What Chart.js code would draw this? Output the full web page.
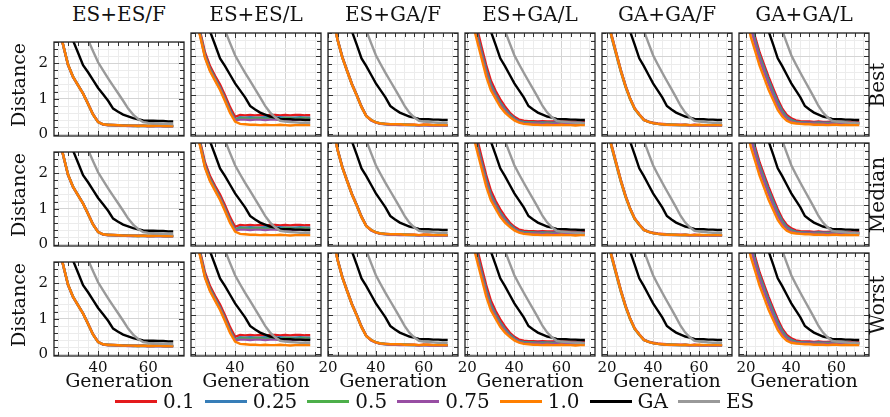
<!DOCTYPE html>
<html>
<head>
<meta charset="utf-8">
<script src="https://cdn.jsdelivr.net/npm/chart.js@4.4.1/dist/chart.umd.min.js"></script>
<style>
  body { margin: 0; background: #fff; }
  #page { position: relative; width: 890px; height: 417px; overflow: hidden; font-family: "DejaVu Serif", serif; color: #111; }
  #page canvas { position: absolute; }
  .txt { position: absolute; white-space: nowrap; line-height: 1; transform: translate(-50%, -50%); }
  .legend { position: absolute; left: 115px; top: 390px; display: flex; align-items: center; font-size: 20px; line-height: 22px; white-space: nowrap; }
  .legend i { display: inline-block; width: 42px; height: 3px; margin-right: 6px; }
  .legend span { margin-right: 10px; }
</style>
</head>
<body>
<div id="page"></div>
<script>
// --- data ---
const columnTitles = ['ES+ES/F', 'ES+ES/L', 'ES+GA/F', 'ES+GA/L', 'GA+GA/F', 'GA+GA/L'];
const rowTitles = ['Best', 'Median', 'Worst'];
const rateLabels = ['0.1', '0.25', '0.5', '0.75', '1.0'];
const rateColors = ['#e41a1c', '#377eb8', '#4daf4a', '#984ea3', '#ff7f00'];

const generations = [20, 22, 24, 26, 28, 30, 32, 34, 36, 38, 40, 42, 44, 46, 48, 50, 52, 54, 56, 58, 60, 62, 64, 66, 68, 70];

const gaDistance = [4.0, 3.7, 3.4, 3.1, 2.85, 2.64, 2.3, 1.95, 1.75, 1.53, 1.31, 1.13, 0.95, 0.73, 0.64, 0.56, 0.51, 0.46, 0.43, 0.40, 0.39, 0.39, 0.38, 0.38, 0.37, 0.37];
const esDistance = [4.7, 4.4, 4.1, 3.8, 3.5, 3.25, 3.0, 2.85, 2.66, 2.34, 2.03, 1.80, 1.58, 1.37, 1.16, 0.95, 0.73, 0.56, 0.44, 0.35, 0.33, 0.32, 0.31, 0.30, 0.30, 0.29];

// ES+ES/F
const esesF_r01  = [3.6, 3.3, 3.0, 2.54, 1.97, 1.63, 1.39, 1.16, 0.87, 0.57, 0.36, 0.29, 0.28, 0.27, 0.26, 0.26, 0.25, 0.25, 0.25, 0.25, 0.24, 0.25, 0.25, 0.24, 0.24, 0.24];
const esesF_r025 = [3.6, 3.3, 3.0, 2.53, 1.96, 1.62, 1.39, 1.16, 0.86, 0.56, 0.35, 0.29, 0.27, 0.27, 0.26, 0.25, 0.25, 0.25, 0.24, 0.25, 0.24, 0.24, 0.25, 0.24, 0.24, 0.24];
const esesF_r05  = [3.6, 3.3, 3.0, 2.53, 1.96, 1.62, 1.38, 1.15, 0.86, 0.56, 0.35, 0.28, 0.27, 0.26, 0.26, 0.25, 0.25, 0.24, 0.24, 0.24, 0.24, 0.24, 0.24, 0.24, 0.23, 0.24];
const esesF_r075 = [3.6, 3.3, 3.0, 2.52, 1.95, 1.61, 1.38, 1.15, 0.86, 0.56, 0.35, 0.28, 0.26, 0.26, 0.25, 0.25, 0.24, 0.24, 0.24, 0.24, 0.23, 0.24, 0.23, 0.23, 0.23, 0.23];
const esesF_r10  = [3.6, 3.3, 3.0, 2.53, 1.96, 1.62, 1.38, 1.15, 0.86, 0.56, 0.35, 0.29, 0.27, 0.27, 0.26, 0.25, 0.25, 0.25, 0.24, 0.25, 0.24, 0.24, 0.25, 0.24, 0.24, 0.24];

// ES+ES/L
const esesL_r01  = [3.7, 3.4, 3.1, 2.65, 2.1, 1.75, 1.5, 1.28, 1.0, 0.7, 0.45, 0.50, 0.49, 0.50, 0.49, 0.50, 0.49, 0.50, 0.50, 0.49, 0.50, 0.49, 0.50, 0.50, 0.49, 0.49];
const esesL_r025 = [3.65, 3.35, 3.05, 2.6, 2.03, 1.68, 1.44, 1.2, 0.92, 0.62, 0.38, 0.44, 0.43, 0.44, 0.43, 0.43, 0.44, 0.43, 0.43, 0.44, 0.43, 0.43, 0.43, 0.44, 0.43, 0.43];
const esesL_r05  = [3.65, 3.35, 3.05, 2.58, 2.0, 1.66, 1.42, 1.18, 0.9, 0.6, 0.37, 0.41, 0.41, 0.40, 0.41, 0.41, 0.40, 0.41, 0.41, 0.40, 0.41, 0.41, 0.40, 0.41, 0.41, 0.40];
const esesL_r075 = [3.6, 3.3, 3.0, 2.56, 1.98, 1.64, 1.4, 1.17, 0.88, 0.58, 0.36, 0.38, 0.38, 0.37, 0.38, 0.38, 0.37, 0.38, 0.38, 0.37, 0.38, 0.38, 0.37, 0.38, 0.38, 0.37];
const esesL_r10  = [3.6, 3.3, 3.0, 2.53, 1.96, 1.62, 1.38, 1.14, 0.85, 0.55, 0.33, 0.27, 0.26, 0.25, 0.25, 0.24, 0.25, 0.24, 0.24, 0.25, 0.24, 0.23, 0.24, 0.24, 0.24, 0.24];

// ES+GA/F
const esgaF_r01  = [3.4, 3.0, 2.44, 1.99, 1.64, 1.30, 1.02, 0.72, 0.48, 0.37, 0.31, 0.28, 0.27, 0.26, 0.26, 0.25, 0.25, 0.25, 0.25, 0.24, 0.25, 0.25, 0.24, 0.24, 0.24, 0.24];
const esgaF_r025 = [3.4, 3.0, 2.43, 1.98, 1.63, 1.29, 1.01, 0.71, 0.47, 0.37, 0.31, 0.28, 0.27, 0.26, 0.26, 0.25, 0.25, 0.25, 0.24, 0.24, 0.24, 0.24, 0.24, 0.24, 0.24, 0.24];
const esgaF_r05  = [3.4, 3.0, 2.42, 1.97, 1.62, 1.28, 1.0, 0.70, 0.47, 0.37, 0.31, 0.28, 0.26, 0.26, 0.25, 0.25, 0.25, 0.24, 0.24, 0.24, 0.24, 0.24, 0.24, 0.23, 0.24, 0.23];
const esgaF_r075 = [3.4, 3.0, 2.42, 1.97, 1.62, 1.28, 1.0, 0.70, 0.47, 0.36, 0.30, 0.27, 0.26, 0.25, 0.25, 0.24, 0.24, 0.24, 0.24, 0.23, 0.24, 0.23, 0.23, 0.23, 0.23, 0.23];
const esgaF_r10  = [3.4, 3.0, 2.42, 1.97, 1.62, 1.28, 1.0, 0.70, 0.47, 0.37, 0.31, 0.28, 0.27, 0.26, 0.26, 0.26, 0.25, 0.25, 0.25, 0.24, 0.25, 0.25, 0.24, 0.25, 0.24, 0.24];

// ES+GA/L
const esgaL_r01  = [3.6, 3.2, 2.75, 2.25, 1.78, 1.38, 1.12, 0.9, 0.72, 0.56, 0.45, 0.38, 0.35, 0.34, 0.34, 0.33, 0.34, 0.33, 0.33, 0.34, 0.33, 0.33, 0.32, 0.33, 0.33, 0.32];
const esgaL_r025 = [3.5, 3.1, 2.62, 2.12, 1.66, 1.28, 1.03, 0.82, 0.65, 0.51, 0.41, 0.34, 0.32, 0.31, 0.31, 0.30, 0.31, 0.30, 0.30, 0.31, 0.30, 0.30, 0.29, 0.30, 0.30, 0.29];
const esgaL_r05  = [3.45, 3.05, 2.57, 2.08, 1.61, 1.24, 1.0, 0.79, 0.62, 0.49, 0.39, 0.33, 0.31, 0.30, 0.30, 0.29, 0.29, 0.30, 0.29, 0.29, 0.28, 0.29, 0.29, 0.28, 0.29, 0.28];
const esgaL_r075 = [3.4, 3.0, 2.52, 2.04, 1.57, 1.2, 0.97, 0.76, 0.6, 0.47, 0.38, 0.32, 0.29, 0.28, 0.28, 0.28, 0.27, 0.28, 0.27, 0.28, 0.27, 0.27, 0.28, 0.27, 0.27, 0.27];
const esgaL_r10  = [3.3, 2.9, 2.43, 1.96, 1.49, 1.13, 0.92, 0.71, 0.56, 0.45, 0.36, 0.30, 0.27, 0.26, 0.25, 0.25, 0.24, 0.25, 0.24, 0.24, 0.25, 0.24, 0.24, 0.23, 0.24, 0.24];

// GA+GA/F
const gagaF_r01  = [3.05, 2.54, 2.09, 1.65, 1.26, 0.93, 0.67, 0.52, 0.38, 0.33, 0.30, 0.28, 0.27, 0.26, 0.25, 0.25, 0.25, 0.25, 0.24, 0.25, 0.24, 0.24, 0.24, 0.24, 0.24, 0.24];
const gagaF_r025 = [3.02, 2.52, 2.08, 1.64, 1.25, 0.93, 0.66, 0.51, 0.37, 0.33, 0.29, 0.27, 0.26, 0.26, 0.25, 0.25, 0.24, 0.25, 0.24, 0.24, 0.24, 0.24, 0.24, 0.23, 0.24, 0.24];
const gagaF_r05  = [2.98, 2.48, 2.03, 1.6, 1.22, 0.9, 0.65, 0.5, 0.37, 0.32, 0.29, 0.27, 0.26, 0.25, 0.25, 0.24, 0.24, 0.24, 0.24, 0.24, 0.24, 0.23, 0.24, 0.23, 0.23, 0.23];
const gagaF_r075 = [3.0, 2.5, 2.06, 1.62, 1.24, 0.92, 0.66, 0.51, 0.37, 0.32, 0.29, 0.27, 0.26, 0.25, 0.24, 0.24, 0.24, 0.24, 0.23, 0.24, 0.23, 0.23, 0.23, 0.23, 0.23, 0.23];
const gagaF_r10  = [3.0, 2.51, 2.07, 1.63, 1.24, 0.92, 0.66, 0.51, 0.37, 0.32, 0.29, 0.27, 0.26, 0.25, 0.25, 0.25, 0.24, 0.25, 0.24, 0.24, 0.25, 0.24, 0.24, 0.24, 0.24, 0.24];

// GA+GA/L
const gagaL_r01  = [3.5, 2.95, 2.5, 2.1, 1.78, 1.47, 1.18, 0.9, 0.66, 0.5, 0.41, 0.36, 0.34, 0.33, 0.33, 0.32, 0.33, 0.32, 0.32, 0.33, 0.32, 0.32, 0.31, 0.32, 0.32, 0.31];
const gagaL_r025 = [3.4, 2.85, 2.42, 2.02, 1.7, 1.39, 1.1, 0.83, 0.6, 0.45, 0.37, 0.33, 0.31, 0.31, 0.30, 0.30, 0.31, 0.30, 0.30, 0.30, 0.29, 0.30, 0.30, 0.29, 0.30, 0.29];
const gagaL_r05  = [3.35, 2.8, 2.36, 1.96, 1.64, 1.33, 1.04, 0.77, 0.56, 0.42, 0.35, 0.31, 0.30, 0.29, 0.29, 0.29, 0.28, 0.29, 0.29, 0.28, 0.29, 0.28, 0.28, 0.29, 0.28, 0.28];
const gagaL_r075 = [3.3, 2.75, 2.32, 1.92, 1.6, 1.29, 1.0, 0.74, 0.53, 0.4, 0.33, 0.30, 0.29, 0.28, 0.28, 0.28, 0.27, 0.28, 0.27, 0.28, 0.27, 0.27, 0.28, 0.27, 0.27, 0.27];
const gagaL_r10  = [3.1, 2.52, 2.14, 1.76, 1.45, 1.14, 0.88, 0.63, 0.46, 0.35, 0.30, 0.28, 0.27, 0.26, 0.26, 0.25, 0.25, 0.25, 0.24, 0.25, 0.25, 0.24, 0.25, 0.24, 0.24, 0.24];

// axes
const xMins = [22.4, 22.4, 20, 19, 17.8, 16.9];
const xMax = 74.3;
const xGrid = [16, 20, 24, 28, 32, 36, 40, 44, 48, 52, 56, 60, 64, 68, 72];
const xMajor = [20, 40, 60];
const yMin = -0.04, yMax = 2.6;
const yGrid = [0, 0.2, 0.4, 0.6, 0.8, 1, 1.2, 1.4, 1.6, 1.8, 2, 2.2, 2.4, 2.6];
const yMajor = [0, 1, 2];

const panelSeries = [
  [esesF_r01, esesF_r025, esesF_r05, esesF_r075, esesF_r10],
  [esesL_r01, esesL_r025, esesL_r05, esesL_r075, esesL_r10],
  [esgaF_r01, esgaF_r025, esgaF_r05, esgaF_r075, esgaF_r10],
  [esgaL_r01, esgaL_r025, esgaL_r05, esgaL_r075, esgaL_r10],
  [gagaF_r01, gagaF_r025, gagaF_r05, gagaF_r075, gagaF_r10],
  [gagaL_r01, gagaL_r025, gagaL_r05, gagaL_r075, gagaL_r10],
];

// --- layout ---
const FONT = '"DejaVu Serif", serif';
const colLeft = [54, 191, 328, 465, 602, 739];
const rowTop = [33, 143, 253];
const PW = 130, PH = 103;
const PAD_L = 30, PAD_T = 6, PAD_R = 6, PAD_B = 26;
const page = document.getElementById('page');

function addText(str, cx, cy, size, rotate) {
  const d = document.createElement('div');
  d.className = 'txt';
  d.textContent = str;
  d.style.left = cx + 'px';
  d.style.top = cy + 'px';
  d.style.fontSize = size + 'px';
  if (rotate) d.style.transform = 'translate(-50%, -50%) rotate(' + rotate + 'deg)';
  page.appendChild(d);
}

const innerTicks = {
  id: 'innerTicks',
  afterDatasetsDraw(chart) {
    const { ctx, chartArea: a, scales: { x, y } } = chart;
    ctx.save();
    ctx.strokeStyle = '#333';
    ctx.lineWidth = 1;
    ctx.beginPath();
    x.ticks.forEach(t => {
      const p = Math.round(x.getPixelForValue(t.value)) + 0.5;
      const len = xMajor.includes(t.value) ? 5 : 4;
      ctx.moveTo(p, a.bottom); ctx.lineTo(p, a.bottom - len);
      ctx.moveTo(p, a.top); ctx.lineTo(p, a.top + len);
    });
    y.ticks.forEach(t => {
      const p = Math.round(y.getPixelForValue(t.value)) + 0.5;
      const len = yMajor.includes(t.value) ? 5 : 4;
      ctx.moveTo(a.left, p); ctx.lineTo(a.left + len, p);
      ctx.moveTo(a.right, p); ctx.lineTo(a.right - len, p);
    });
    ctx.stroke();
    ctx.strokeStyle = '#222';
    ctx.lineWidth = 1.3;
    ctx.strokeRect(a.left, a.top, a.width, a.height);
    ctx.restore();
  }
};

function series(values, color) {
  return {
    data: generations.map((g, i) => ({ x: g, y: values[i] })),
    borderColor: color,
    borderWidth: 2.4,
    pointRadius: 0,
    tension: 0,
    clip: 0
  };
}

function makePanel(col, row) {
  const cv = document.createElement('canvas');
  cv.width = PAD_L + PW + PAD_R;
  cv.height = PAD_T + PH + PAD_B;
  cv.style.left = (colLeft[col] - PAD_L) + 'px';
  cv.style.top = (rowTop[row] - PAD_T) + 'px';
  page.appendChild(cv);

  // first dataset is painted last in Chart.js, so ES ends up on top
  const datasets = [series(esDistance, '#999999'), series(gaDistance, '#000000')];
  for (let k = rateLabels.length - 1; k >= 0; k--) {
    datasets.push(series(panelSeries[col][k], rateColors[k]));
  }

  new Chart(cv, {
    type: 'line',
    data: { datasets },
    options: {
      responsive: false,
      animation: false,
      events: [],
      layout: { padding: { left: 0, top: PAD_T, right: PAD_R, bottom: 0 } },
      plugins: { legend: { display: false }, tooltip: { enabled: false } },
      scales: {
        x: {
          type: 'linear',
          min: xMins[col],
          max: xMax,
          afterBuildTicks: s => { s.ticks = xGrid.filter(v => v >= s.min && v <= s.max).map(v => ({ value: v })); },
          afterFit: s => { s.height = PAD_B; },
          border: { display: false },
          grid: { drawTicks: false, lineWidth: 1, color: c => xMajor.includes(c.tick.value) ? '#d4d4d4' : '#ececec' },
          ticks: {
            display: row === 2,
            autoSkip: false,
            maxRotation: 0,
            padding: 3,
            color: '#111',
            font: { family: FONT, size: 15 },
            callback: v => xMajor.includes(v) ? String(v) : ''
          }
        },
        y: {
          min: yMin,
          max: yMax,
          afterBuildTicks: s => { s.ticks = yGrid.map(v => ({ value: v })); },
          afterFit: s => { s.width = PAD_L; },
          border: { display: false },
          grid: { drawTicks: false, lineWidth: 1, color: c => yMajor.includes(c.tick.value) ? '#d4d4d4' : '#ececec' },
          ticks: {
            display: col === 0,
            autoSkip: false,
            padding: 6,
            color: '#111',
            font: { family: FONT, size: 15 },
            callback: v => yMajor.includes(v) ? String(v) : ''
          }
        }
      }
    },
    plugins: [innerTicks]
  });
}

for (let r = 0; r < 3; r++) {
  for (let c = 0; c < 6; c++) makePanel(c, r);
}

columnTitles.forEach((t, c) => addText(t, colLeft[c] + PW / 2, 14, 20));
rowTitles.forEach((t, r) => {
  addText('Distance', 18, rowTop[r] + PH / 2, 19, -90);
  addText(t, 877, rowTop[r] + PH / 2, 20, -90);
});
columnTitles.forEach((t, c) => addText('Generation', colLeft[c] + PW / 2, 380, 19));

// legend
const legend = document.createElement('div');
legend.className = 'legend';
const legendItems = rateLabels.map((l, i) => [l, rateColors[i]]).concat([['GA', '#000000'], ['ES', '#999999']]);
legendItems.forEach(([label, color]) => {
  const sw = document.createElement('i');
  sw.style.background = color;
  const tx = document.createElement('span');
  tx.textContent = label;
  legend.appendChild(sw);
  legend.appendChild(tx);
});
page.appendChild(legend);
</script>
</body>
</html>
